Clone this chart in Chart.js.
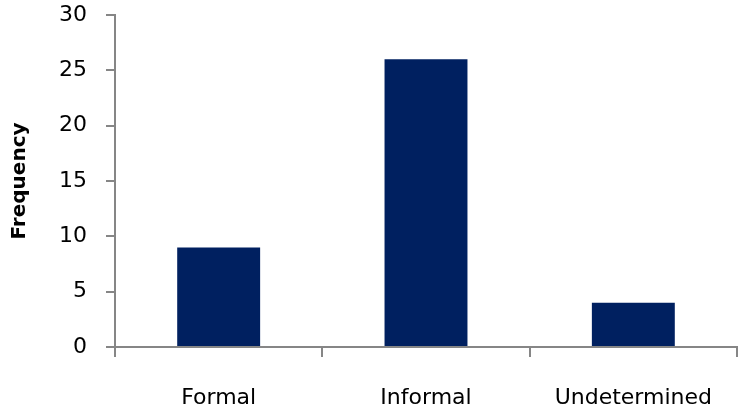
<!DOCTYPE html>
<html>
<head>
<meta charset="utf-8">
<script src="https://cdn.jsdelivr.net/npm/chart.js@4/dist/chart.umd.min.js"></script>
<style>
  html, body { margin: 0; padding: 0; background: #ffffff; }
  #wrap { width: 738px; height: 408px; position: relative; }
</style>
</head>
<body>
<div id="wrap"><canvas id="c" width="738" height="408"></canvas></div>
<script>
const categories = ["Formal", "Informal", "Undetermined"];
const frequency = [9, 26, 4];
const yTitle = "Frequency";

const axisColor = "#868686";
const font = "'DejaVu Sans', sans-serif";

new Chart(document.getElementById("c"), {
  type: "bar",
  data: {
    labels: categories,
    datasets: [{
      data: frequency,
      backgroundColor: "#002060",
      borderWidth: 0,
      categoryPercentage: 0.4,
      barPercentage: 1.0
    }]
  },
  options: {
    responsive: false,
    animation: false,
    devicePixelRatio: 1,
    layout: { padding: { top: 15, right: 1, left: 0, bottom: 0 } },
    plugins: { legend: { display: false }, tooltip: { enabled: false } },
    scales: {
      x: {
        grid: {
          offset: true,
          drawOnChartArea: false,
          drawTicks: true,
          tickLength: 10,
          color: axisColor,
          lineWidth: 2
        },
        border: { display: true, color: axisColor, width: 2 },
        ticks: {
          color: "#000000",
          font: { family: font, size: 22 },
          padding: 28,
          maxRotation: 0
        },
        afterFit: (s) => { s.height = 61; s.paddingLeft = 0; s.paddingRight = 0; }
      },
      y: {
        min: 0,
        max: 30,
        ticks: {
          stepSize: 5,
          color: "#000000",
          font: { family: font, size: 22 },
          padding: 19
        },
        grid: {
          drawOnChartArea: false,
          drawTicks: true,
          tickLength: 9,
          color: axisColor,
          lineWidth: 2
        },
        border: { display: true, color: axisColor, width: 2 },
        title: {
          display: true,
          text: yTitle,
          color: "#000000",
          font: { family: font, size: 20, weight: "bold" },
          padding: { top: 8, bottom: 0 }
        },
        afterFit: (s) => { s.width = 115; s.paddingTop = 0; s.paddingBottom = 0; }
      }
    }
  }
});
</script>
</body>
</html>
